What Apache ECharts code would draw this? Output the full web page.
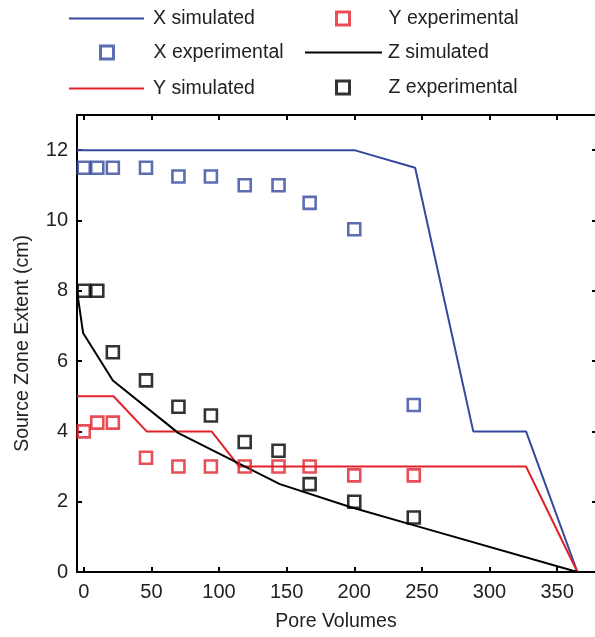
<!DOCTYPE html>
<html>
<head>
<meta charset="utf-8">
<script src="https://cdn.jsdelivr.net/npm/echarts@6/dist/echarts.min.js"></script>
<style>
  html, body { margin: 0; padding: 0; background: #fff; }
  #chart { width: 595px; height: 637px; }
</style>
</head>
<body>
<div id="chart"></div>
<script>
// pore volumes where the experiments were sampled
const expPV = [0, 10, 21.5, 46, 70, 94, 119, 144, 167, 200, 244];
const xExp = [11.5, 11.5, 11.5, 11.5, 11.25, 11.25, 11, 11, 10.5, 9.75, 4.75];
const yExp = [4, 4.25, 4.25, 3.25, 3, 3, 3, 3, 3, 2.75, 2.75];
const zExp = [8, 8, 6.25, 5.45, 4.7, 4.45, 3.7, 3.45, 2.5, 2.0, 1.55];

// simulated curves (pore volume, extent)
const xSimPV = [-5, 200, 245, 288, 327, 365];
const xSim = [12, 12, 11.5, 4, 4, 0];
const ySimPV = [-5, 22, 46.5, 94.5, 115, 327, 365];
const ySim = [5, 5, 4, 4, 3, 3, 0];
const zSimPV = [-5, -0.5, 21.5, 70, 145, 197, 245, 365];
const zSim = [8, 6.8, 5.45, 3.95, 2.5, 1.85, 1.32, 0];

const xTicks = [0, 50, 100, 150, 200, 250, 300, 350];
const yTicks = [0, 2, 4, 6, 8, 10, 12];

const BLUE = '#34489c';
const RED = '#e2222a';
const BLACK = '#000';
const FONT = 'Liberation Sans, Arial, sans-serif';

const pairs = (xs, ys) => xs.map((x, i) => [x, ys[i]]);

const lineSeries = (name, xs, ys, color) => ({
  name: name,
  type: 'line',
  data: pairs(xs, ys),
  symbol: 'none',
  lineStyle: { color: color, width: 2 },
  itemStyle: { color: color },
  z: 2
});

const squareSeries = (name, ys, color) => ({
  name: name,
  type: 'scatter',
  data: pairs(expPV, ys),
  symbol: 'rect',
  symbolSize: 12,
  itemStyle: { color: 'rgba(0,0,0,0)', borderColor: color, borderWidth: 2.6 },
  z: 3
});

// legend rows sit at y = 17, 52, 87
const legendText = (padLeft) => ({
  fontFamily: FONT, fontSize: 19.5, color: '#222', lineHeight: 21, padding: [0, 0, 0, padLeft]
});

const lineLegend = (left, top, width, padLeft, names) => ({
  orient: 'vertical', left: left, top: top, padding: 0,
  itemWidth: width, itemHeight: 12, itemGap: 49,
  selectedMode: false,
  itemStyle: { opacity: 0 },
  textStyle: legendText(padLeft),
  data: names
});

const squareLegend = (left, top, padLeft, names) => ({
  orient: 'vertical', left: left, top: top, padding: 0,
  itemWidth: 13, itemHeight: 13, itemGap: 48,
  selectedMode: false,
  itemStyle: { borderWidth: 3 },
  textStyle: legendText(padLeft),
  data: names
});

const chart = echarts.init(document.getElementById('chart'));

chart.setOption({
  animation: false,
  backgroundColor: '#fff',
  textStyle: { fontFamily: FONT },
  legend: [
    lineLegend(68, 8, 75, 4, ['X simulated', 'Y simulated']),
    squareLegend(99, 42, 35, ['X experimental']),
    squareLegend(335, 8, 34, ['Y experimental', 'Z experimental']),
    lineLegend(304, 42, 77, 1, ['Z simulated'])
  ],
  grid: { left: 77, top: 115, right: 0, bottom: 64 },
  xAxis: [
    {
      type: 'value',
      position: 'bottom',
      min: -5,
      max: 378,
      name: 'Pore Volumes',
      nameLocation: 'middle',
      nameGap: 40,
      nameTextStyle: { fontFamily: FONT, fontSize: 19.5, color: '#222' },
      axisLine: { onZero: false, lineStyle: { color: BLACK, width: 2 } },
      axisTick: { inside: true, length: 5, customValues: xTicks, lineStyle: { color: BLACK, width: 2 } },
      axisLabel: { customValues: xTicks, margin: 10, fontFamily: FONT, fontSize: 20, color: '#222' },
      splitLine: { show: false }
    },
    {
      type: 'value',
      position: 'top',
      min: -5,
      max: 378,
      axisLine: { onZero: false, lineStyle: { color: BLACK, width: 2 } },
      axisTick: { inside: true, length: 5, customValues: xTicks, lineStyle: { color: BLACK, width: 2 } },
      axisLabel: { show: false },
      splitLine: { show: false }
    }
  ],
  yAxis: [
    {
      type: 'value',
      position: 'left',
      min: 0,
      max: 13,
      name: 'Source Zone Extent (cm)',
      nameLocation: 'middle',
      nameGap: 44,
      nameTextStyle: { fontFamily: FONT, fontSize: 19.5, color: '#222' },
      axisLine: { show: true, onZero: false, lineStyle: { color: BLACK, width: 2 } },
      axisTick: { show: true, inside: true, length: 5, customValues: yTicks, lineStyle: { color: BLACK, width: 2 } },
      axisLabel: { customValues: yTicks, margin: 9, fontFamily: FONT, fontSize: 20, color: '#222' },
      splitLine: { show: false }
    },
    {
      // the right frame edge falls just outside the picture, only tick stubs show
      type: 'value',
      position: 'right',
      min: 0,
      max: 13,
      axisLine: { show: false, onZero: false },
      axisTick: { show: true, inside: true, length: 3, customValues: yTicks, lineStyle: { color: BLACK, width: 2 } },
      axisLabel: { show: false },
      splitLine: { show: false }
    }
  ],
  series: [
    lineSeries('X simulated', xSimPV, xSim, BLUE),
    squareSeries('X experimental', xExp, BLUE),
    lineSeries('Y simulated', ySimPV, ySim, RED),
    squareSeries('Y experimental', yExp, RED),
    lineSeries('Z simulated', zSimPV, zSim, BLACK),
    squareSeries('Z experimental', zExp, BLACK)
  ]
});
</script>
</body>
</html>
